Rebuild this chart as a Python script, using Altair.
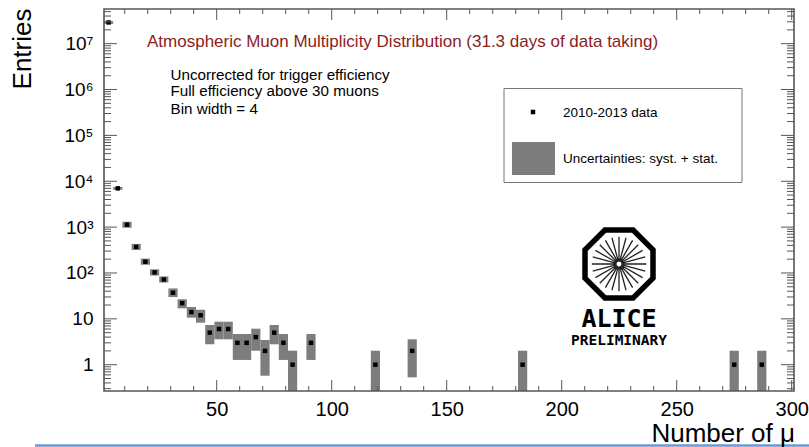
import math
import altair as alt
import pandas as pd

# ---------------- data ----------------
bin_centers = [3, 7, 11, 15, 19, 23, 27, 31, 35, 39, 43, 47, 51, 55, 59, 63, 67, 71,
               75, 79, 83, 91, 119, 135, 183, 275, 287]
entries = [2.9e7, 7000, 1130, 370, 176, 103, 72, 37, 22, 14, 12, 5, 6, 6, 3, 3, 4, 2,
           5, 3, 1, 3, 1, 2, 1, 1, 1]
unc_low = [2.7e7, 6500, 970, 318, 151, 88, 62, 29.9, 17, 10.6, 8.25, 2.79, 3.58, 3.58,
           1.27, 1.27, 2.02, 0.575, 2.79, 1.27, 0.1, 1.27, 0.1, 0.53, 0.1, 0.1, 0.1]
unc_high = [3.1e7, 7500, 1310, 430, 205, 120, 84, 46, 26.7, 18.1, 15.8, 7.34, 8.66, 8.66,
            4.67, 4.67, 6.1, 3.46, 7.34, 4.67, 2.02, 4.67, 2.02, 3.58, 2.02, 2.02, 2.02]
bin_width = 4

x_domain = [1, 301]
y_domain = [0.267, 5.7e7]
x_label_values = [50, 100, 150, 200, 250, 300]
x_minor_values = [10, 20, 30, 40, 60, 70, 80, 90, 110, 120, 130, 140, 160, 170, 180, 190,
                  210, 220, 230, 240, 260, 270, 280, 290]
y_label_values = [1, 10, 100, 1e3, 1e4, 1e5, 1e6, 1e7]
y_label_texts = ["1", "10", "10²", "10³", "10⁴", "10⁵", "10⁶", "10⁷"]

title_text = "Atmospheric Muon Multiplicity Distribution (31.3 days of data taking)"
note_lines = ["Uncorrected for trigger efficiency", "Full efficiency above 30 muons",
              "Bin width = 4"]
legend_texts = ["2010-2013 data", "Uncertainties: syst. + stat."]
x_title = "Number of μ"
y_title = "Entries"

# ---------------- layout ----------------
W, H = 690, 382
FONT = "Liberation Sans"
FRAME = "#555555"
BOXGREY = "#7d7d7d"

df = pd.DataFrame({
    "x": bin_centers,
    "xl": [c - bin_width / 2 for c in bin_centers],
    "xr": [c + bin_width / 2 for c in bin_centers],
    "v": entries,
    "lo": unc_low,
    "hi": unc_high,
})

y_minor_values = [d * 10 ** k for k in range(-1, 8) for d in range(2, 10)
                  if y_domain[0] <= d * 10 ** k <= y_domain[1]]

xs = alt.Scale(domain=x_domain, nice=False, zero=False)
ys = alt.Scale(type="log", domain=y_domain, nice=False)

label_expr = ""
for v, t in zip(y_label_values, y_label_texts):
    label_expr += f"datum.value < {v * 3} ? '{t}' : "
label_expr += "''"

# uncertainty boxes (carry the labelled axes)
boxes = alt.Chart(df).mark_rect(color=BOXGREY, clip=True).encode(
    x=alt.X("xl:Q", scale=xs, axis=alt.Axis(orient="bottom", values=x_label_values, ticks=False,
                                            domain=False, grid=False, title=None, labelFont=FONT,
                                            labelFontSize=20, labelColor="black", labelPadding=8,
                                            labelFlush=False, labelOverlap=False)),
    x2="xr:Q",
    y=alt.Y("lo:Q", scale=ys, axis=alt.Axis(orient="left", values=y_label_values, ticks=False,
                                            domain=False, grid=False, title=None, labelFont=FONT,
                                            labelFontSize=19, labelColor="black", labelPadding=11,
                                            labelExpr=label_expr, labelFlush=False,
                                            labelOverlap=False)),
    y2="hi:Q",
)

points = alt.Chart(df).mark_square(size=20, color="black", opacity=1, clip=True).encode(
    x=alt.X("x:Q", scale=xs, axis=None),
    y=alt.Y("v:Q", scale=ys, axis=None),
)

# inward ticks on all four edges, placed through the scales
def xticks(values, length):
    d = pd.DataFrame({"t": values})
    bottom = alt.Chart(d).mark_rule(color=FRAME, strokeWidth=1).encode(
        x=alt.X("t:Q", scale=xs, axis=None), y=alt.value(H), y2=alt.value(H - length))
    top = alt.Chart(d).mark_rule(color=FRAME, strokeWidth=1).encode(
        x=alt.X("t:Q", scale=xs, axis=None), y=alt.value(0), y2=alt.value(length))
    return [bottom, top]

def yticks(values, length):
    d = pd.DataFrame({"t": values})
    left = alt.Chart(d).mark_rule(color=FRAME, strokeWidth=1).encode(
        y=alt.Y("t:Q", scale=ys, axis=None), x=alt.value(0), x2=alt.value(length))
    right = alt.Chart(d).mark_rule(color=FRAME, strokeWidth=1).encode(
        y=alt.Y("t:Q", scale=ys, axis=None), x=alt.value(W), x2=alt.value(W - length))
    return [left, right]

tick_layers = (xticks(x_label_values, 11) + xticks(x_minor_values, 5)
               + yticks(y_label_values, 13) + yticks(y_minor_values, 7))

def label(text, px, py, size, color="black", align="left", baseline="alphabetic",
          font=FONT, weight="normal", angle=0):
    kw = dict(align=align, baseline=baseline, fontSize=size, font=font, color=color,
              fontWeight=weight)
    if angle:
        kw["angle"] = angle
    return alt.Chart(pd.DataFrame({"t": [text]})).mark_text(**kw).encode(
        x=alt.value(px), y=alt.value(py), text="t:N")

texts = [
    label(title_text, 43, 38, 17, color="#8c1d1d"),
    label(note_lines[0], 66.5, 71.3, 15.2),
    label(note_lines[1], 66.5, 87.3, 15.2),
    label(note_lines[2], 66.5, 104.6, 15.2),
    label(legend_texts[0], 459, 103.5, 13.5, baseline="middle"),
    label(legend_texts[1], 459, 149.5, 13.5, baseline="middle"),
    label("ALICE", 515, 317.5, 25, align="center", font="DejaVu Sans Mono", weight="bold"),
    label("PRELIMINARY", 515, 335.5, 14.5, align="center", font="DejaVu Sans Mono", weight="bold"),
    label(x_title, 691, 432.5, 26, align="right"),
    label(y_title, -81, 40, 26, align="center", baseline="middle", angle=270),
]

one = pd.DataFrame({"k": [0]})
frame = alt.Chart(one).mark_rect(fill="transparent", stroke=FRAME, strokeWidth=1.6).encode(
    x=alt.value(0), x2=alt.value(W), y=alt.value(0), y2=alt.value(H))
legend_frame = alt.Chart(one).mark_rect(fill="white", stroke="#777777", strokeWidth=1).encode(
    x=alt.value(400), x2=alt.value(638), y=alt.value(79.5), y2=alt.value(173.5))
legend_box = alt.Chart(one).mark_rect(color=BOXGREY).encode(
    x=alt.value(408), x2=alt.value(451), y=alt.value(133), y2=alt.value(166))
legend_marker = alt.Chart(one).mark_square(size=20, color="black", opacity=1).encode(
    x=alt.value(429), y=alt.value(103))

# ALICE logo shapes (unit-square symbol paths)
r_oct = 1 / math.cos(math.pi / 8)
oct_pts = [(r_oct * math.cos(math.pi / 8 + k * math.pi / 4),
            r_oct * math.sin(math.pi / 8 + k * math.pi / 4)) for k in range(8)]
oct_path = "M" + " L".join(f"{a:.4f},{b:.4f}" for a, b in oct_pts) + " Z"
spoke_path = " ".join(
    f"M{0.07 * math.cos(t):.4f},{0.07 * math.sin(t):.4f} L{0.8 * math.cos(t):.4f},{0.8 * math.sin(t):.4f}"
    for t in [k * 2 * math.pi / 24 for k in range(24)])

logo_oct = alt.Chart(one).mark_point(shape=oct_path, size=68 * 68, filled=False, stroke="black",
                                     strokeWidth=5.5, opacity=1).encode(
    x=alt.value(515), y=alt.value(255))
logo_spokes = alt.Chart(one).mark_point(shape=spoke_path, size=68 * 68, filled=False,
                                        stroke="#222222", strokeWidth=1.3, opacity=1).encode(
    x=alt.value(515), y=alt.value(255))

blue_line = alt.Chart(one).mark_rule(color="#6a9ad6", strokeWidth=2.5).encode(
    x=alt.value(-69), x2=alt.value(705), y=alt.value(436.5))

chart = alt.layer(
    boxes, points, *tick_layers, frame,
    legend_frame, legend_box, legend_marker,
    logo_oct, logo_spokes, blue_line,
    *texts,
).resolve_axis(x="independent", y="independent").properties(
    width=W, height=H, autosize="none",
    padding={"left": 104, "top": 9, "right": 15, "bottom": 56},
    background="white",
).configure_view(stroke=None)

chart.save("out.html", embed_options={"renderer": "svg", "actions": False})
